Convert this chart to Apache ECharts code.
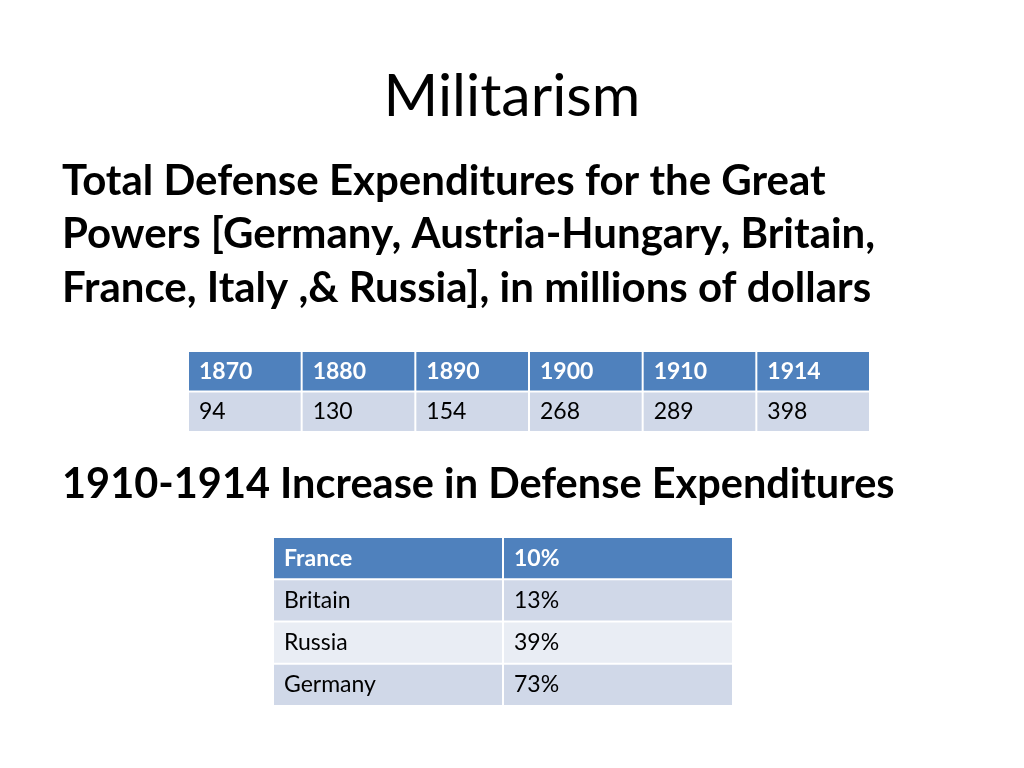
<!DOCTYPE html>
<html>
<head>
<meta charset="utf-8">
<script src="https://cdn.jsdelivr.net/npm/echarts@6/dist/echarts.min.js"></script>
<style>
  html, body { margin: 0; padding: 0; background: #fff; }
  #main { width: 1024px; height: 768px; }
</style>
</head>
<body>
<div id="main"></div>
<script>
// table 1: total defense expenditures, millions of dollars
var years = ['1870', '1880', '1890', '1900', '1910', '1914'];
var spending = [94, 130, 154, 268, 289, 398];

// table 2: 1910-1914 increase, percent
var countries = ['France', 'Britain', 'Russia', 'Germany'];
var increase = [10, 13, 39, 73];

var FONT = 'Lato';
var HEAD = '#4F81BD';
var BAND1 = '#D0D8E8';
var BAND2 = '#E9EDF4';

// cells for table 1: header row of years, one row of values
var cells1 = [];
years.forEach(function (y, i) {
    cells1.push({ value: [i, 0], text: y, head: true, fill: HEAD });
    cells1.push({ value: [i, 1], text: String(spending[i]), head: false, fill: BAND1 });
});

// cells for table 2: first row is France, styled as header
var cells2 = [];
countries.forEach(function (c, i) {
    var head = i === 0;
    var fill = head ? HEAD : (i % 2 === 1 ? BAND1 : BAND2);
    cells2.push({ value: [0, i], text: c, head: head, fill: fill });
    cells2.push({ value: [1, i], text: increase[i] + '%', head: head, fill: fill });
});

function cellRenderer(cells) {
    return function (params, api) {
        var cell = cells[params.dataIndex];
        var c = api.coord([api.value(0), api.value(1)]);
        var s = api.size([1, 1]);
        var x = c[0] - s[0] / 2, y = c[1] - s[1] / 2;
        return {
            type: 'group',
            children: [{
                type: 'rect',
                shape: { x: x + 1, y: y + 1, width: s[0] - 2, height: s[1] - 2 },
                style: { fill: cell.fill }
            }, {
                type: 'text',
                style: {
                    text: cell.text,
                    x: x + 11,
                    y: c[1],
                    verticalAlign: 'middle',
                    align: 'left',
                    fill: cell.head ? '#ffffff' : '#000000',
                    font: (cell.head ? 'bold ' : '') + '23px ' + FONT
                }
            }]
        };
    };
}

function line(text, y, font) {
    return { type: 'text', x: 62, y: y,
             style: { text: text, font: font, fill: '#000', verticalAlign: 'middle' } };
}

var myChart = echarts.init(document.getElementById('main'));

myChart.setOption({
    animation: false,
    graphic: [
        { type: 'text', x: 512, y: 97,
          style: { text: 'Militarism', font: '59px ' + FONT, fill: '#000',
                   align: 'center', verticalAlign: 'middle' } },
        line('Total Defense Expenditures for the Great', 181, 'bold 42px ' + FONT),
        line('Powers [Germany, Austria-Hungary, Britain,', 234, 'bold 42px ' + FONT),
        line('France, Italy ,& Russia], in millions of dollars', 288, 'bold 42px ' + FONT),
        line('1910-1914 Increase in Defense Expenditures', 485, 'bold 41.5px ' + FONT)
    ],
    grid: [
        { left: 188, top: 351, width: 682, height: 81 },
        { left: 273, top: 537, width: 460, height: 169 }
    ],
    xAxis: [
        { gridIndex: 0, type: 'category', data: years, show: false },
        { gridIndex: 1, type: 'category', data: ['country', 'increase'], show: false }
    ],
    yAxis: [
        { gridIndex: 0, type: 'category', data: ['year', 'spending'], inverse: true, show: false },
        { gridIndex: 1, type: 'category', data: countries, inverse: true, show: false }
    ],
    series: [
        { type: 'custom', xAxisIndex: 0, yAxisIndex: 0,
          renderItem: cellRenderer(cells1), data: cells1 },
        { type: 'custom', xAxisIndex: 1, yAxisIndex: 1,
          renderItem: cellRenderer(cells2), data: cells2 }
    ]
});
</script>
</body>
</html>
